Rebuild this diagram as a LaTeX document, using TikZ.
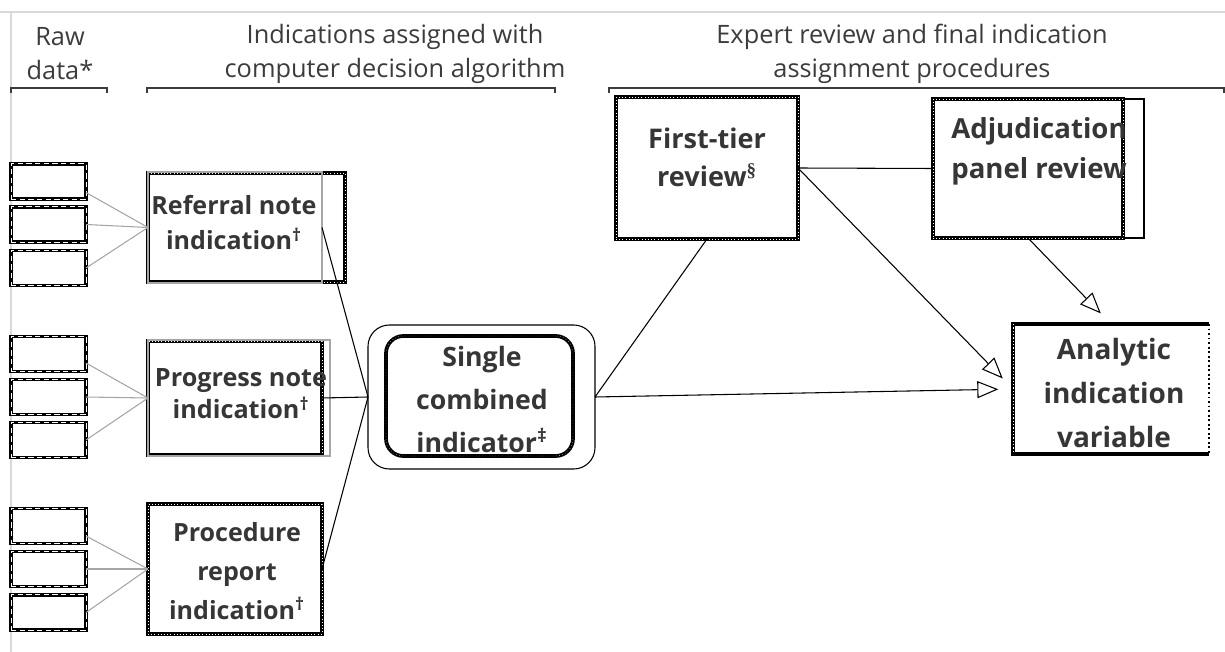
\documentclass[tikz,border=0pt]{standalone}
\usepackage{fontspec}
\setmainfont{Open Sans}
\newfontfamily\symfont{Liberation Serif}
\usetikzlibrary{arrows.meta,calc}
\definecolor{tcol}{HTML}{363636}
\definecolor{hcol}{HTML}{3C3C3C}
\definecolor{lgray}{HTML}{D9D9D9}
\definecolor{cgray}{HTML}{A6A6A6}
\begin{document}
\begin{tikzpicture}[x=0.75pt,y=-0.75pt,
  every node/.style={inner sep=0pt, outer sep=0pt},
  rawbox/.style={draw=black, line width=2.6pt, minimum width=56.25pt, minimum height=26.5pt,
    postaction={draw=white, line width=0.6pt, dash pattern=on 4pt off 2.5pt}},
  hatch/.style={draw=black, line width=2.8pt,
    postaction={draw=white, line width=0.35pt, dash pattern=on 0.4pt off 2pt}},
  thinbox/.style={draw=#1, line width=0.8pt},
  btext/.style 2 args={font=\fontsize{#1}{#2}\selectfont\bfseries, align=center, text=tcol},
  htext/.style={font=\fontsize{19}{25.5}\selectfont, align=center, text=hcol},
  feed/.style={draw=cgray, line width=0.8pt},
  link/.style={draw=black, line width=0.8pt},
  flow/.style={link, -{Triangle[open, length=15.75pt, width=12.75pt, fill=white]}, shorten >=11pt},
  bracket/.style={draw=hcol, line width=0.8pt}
]
\fill[white] (0,0) rectangle (1225,652);
\useasboundingbox (0,0) rectangle (1225,652);
\draw[lgray, line width=2.2pt] (0,12) -- (1225,12);
\draw[lgray, line width=2.2pt] (11,12) -- (11,652);

% headers
\node[htext] (hraw) at (60,54) {Raw\\data*};
\node[htext] (halg) at (395,54) {Indications assigned with\\computer decision algorithm};
\node[htext] (hexp) at (912,54) {Expert review and final indication\\assignment procedures};
\draw[bracket] (11,93) -- (11,88) -- (107,88) -- (107,93);
\draw[bracket] (147,93) -- (147,88) -- (555,88) -- (555,93);
\draw[bracket] (609,93) -- (609,88) -- (1224,88) -- (1224,93);

% raw data boxes
\node[rawbox] (r11) at (48.5,181.5) {};
\node[rawbox] (r12) at (48.5,224.5) {};
\node[rawbox] (r13) at (48.5,268) {};
\node[rawbox] (r21) at (48.5,354) {};
\node[rawbox] (r22) at (48.5,397) {};
\node[rawbox] (r23) at (48.5,440) {};
\node[rawbox] (r31) at (48.5,526) {};
\node[rawbox] (r32) at (48.5,569) {};
\node[rawbox] (r33) at (48.5,612.5) {};

% algorithm boxes
\node[hatch, minimum width=147.75pt, minimum height=81.75pt] (ref) at (246.5,227.5) {};
\node[thinbox=cgray, minimum width=130.5pt, minimum height=83.25pt] (refg) at (235,227.5) {};
\node[hatch, minimum width=130.5pt, minimum height=85.5pt] (prog) at (235,398) {};
\node[thinbox=cgray, minimum width=136.5pt, minimum height=87pt] (progg) at (239,398) {};
\node[thinbox=cgray, minimum width=133pt, minimum height=100pt] (procg) at (235,569) {};
\node[hatch, minimum width=130.5pt, minimum height=97.5pt] (proc) at (235,569) {};

% combined
\node[draw=black, line width=0.8pt, rounded corners=16pt, minimum width=170.25pt, minimum height=108pt] (comb) at (481.5,397) {};
\node[hatch, rounded corners=13pt, minimum width=140.25pt, minimum height=90pt] (combi) at (479.5,396) {};

% expert review
\node[hatch, minimum width=136.5pt, minimum height=106.5pt] (ft) at (707,168) {};
\node[thinbox=black, minimum width=158.25pt, minimum height=104.25pt] (adjo) at (1038.5,168.5) {};
\node[hatch, minimum width=142.5pt, minimum height=104.25pt] (adj) at (1028,168.5) {};

% analytic
\node[minimum width=147pt, minimum height=97.5pt] (an) at (1111,389) {};
\draw[line width=3.6pt] (an.north east) -- (an.north west) -- (an.south west) -- (an.south east);
\draw[white, line width=0.6pt, dash pattern=on 1pt off 1.5pt] (an.north west) -- (an.south west);
\draw[dotted, line width=1.4pt] (an.north east) -- (an.south east);

% connectors
\draw[feed] ($(r11.east)+(0,11)$) -- (ref.west);
\draw[feed] (r12.east) -- (ref.west);
\draw[feed] (r13.east) -- (ref.west);
\draw[feed] ($(r21.east)+(0,9)$) -- (prog.west);
\draw[feed] (r22.east) -- (prog.west);
\draw[feed] (r23.east) -- (prog.west);
\draw[feed] ($(r31.east)+(0,10)$) -- (proc.west);
\draw[feed] (r32.east) -- (proc.west);
\draw[feed] (r33.east) -- (proc.west);
\draw[link] (refg.east) -- (comb.west);
\draw[link] (prog.east) -- (comb.west);
\draw[link] (proc.east) -- (comb.west);
\draw[link] (comb.east) -- (ft.south);
\draw[flow] (comb.east) -- (an.west);
\draw[link] (ft.east) -- (adj.west);
\draw[flow] (ft.east) -- (an.west);
\draw[flow] (adj.south) -- (an.north);

% texts
\node[btext={18.8}{26.25}] (reft) at (234,223) {Referral note\\indication\textsuperscript{†}};
\node[btext={18.9}{24}] (progt) at (241,394) {Progress note\\indication\textsuperscript{†}};
\node[btext={18.8}{29}] (proct) at (237,571) {Procedure\\report\\indication\textsuperscript{†}};
\node[btext={20}{32}] (combt) at (482,399.5) {Single\\combined\\indicator\textsuperscript{‡}};
\node[btext={20.3}{29}] (ftt) at (707,157.5) {First-tier\\review\textsuperscript{\symfont §}};
\node[btext={20.7}{30}] (adjt) at (1039,151) {Adjudication\\panel review};
\node[btext={21}{33}] (ant) at (1114,392.5) {Analytic\\indication\\variable};
\end{tikzpicture}
\end{document}
